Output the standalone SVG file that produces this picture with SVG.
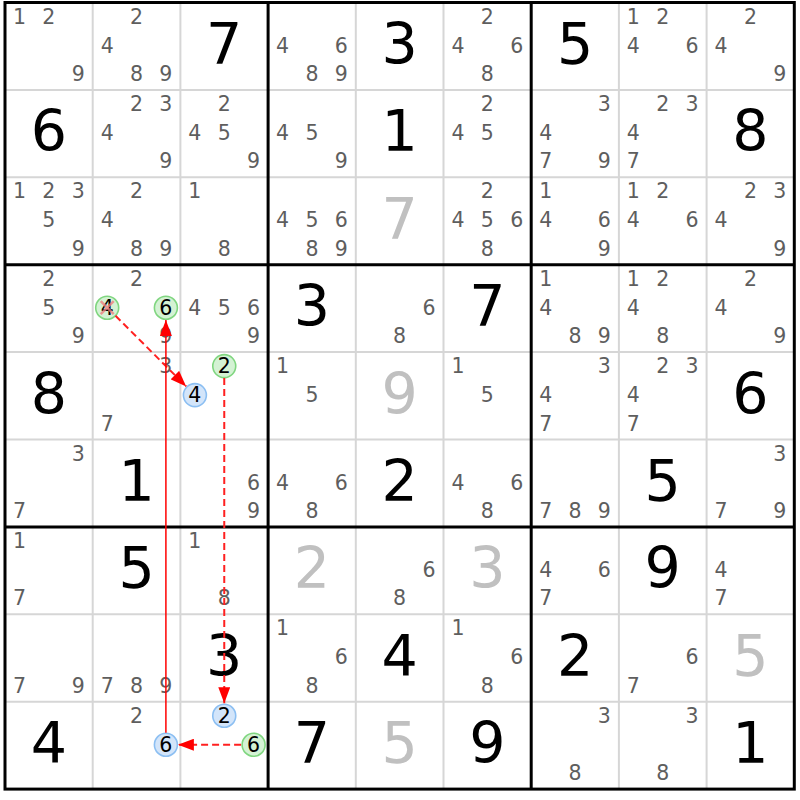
<svg xmlns="http://www.w3.org/2000/svg" width="800" height="800" viewBox="0 0 800 800">
<style>
text{font-family:"DejaVu Sans","Verdana",sans-serif;text-anchor:middle}
.p{font-size:20.5px;fill:#5e5e5e}
.k{fill:#000}
.b{font-size:57px;fill:#000}
.g{font-size:57px;fill:#c0c0c0}
.thin{stroke:#d6d6d6;stroke-width:2}
.thick{stroke:#000;stroke-width:3;fill:none}
.hg{fill:#d4f2d4;stroke:#80d680;stroke-width:1.6}
.hb{fill:#d3e5fa;stroke:#8cbff2;stroke-width:1.6}
.x{stroke:#f08080;stroke-width:2.5;opacity:0.8}
.dl{stroke:#ff2020;stroke-width:2;stroke-dasharray:7,4;fill:none}
.sl{stroke:#ff0000;stroke-width:1.5;fill:none}
</style>
<defs>
<marker id="ah" markerUnits="userSpaceOnUse" markerWidth="16" markerHeight="12" refX="16" refY="6" orient="auto">
<path d="M0,0 L16,6 L0,12 z" fill="#ff0000"/>
</marker>
</defs>
<rect x="0" y="0" width="800" height="800" fill="#fff"/>
<g id="grid">
<path class="thin" d="M92.7,2.5V789.1M180.4,2.5V789.1M355.8,2.5V789.1M443.5,2.5V789.1M618.9,2.5V789.1M706.6,2.5V789.1M5,89.9H794.3M5,177.3H794.3M5,352.1H794.3M5,439.5H794.3M5,614.3H794.3M5,701.7H794.3"/>
<path class="thick" d="M268.1,2.5V789.1M531.2,2.5V789.1M5,264.7H794.3M5,526.9H794.3"/>
<rect class="thick" x="5" y="2.5" width="789.3" height="786.6"/>
</g>
<!-- Row 0 -->
<g id="cell-0-0" transform="translate(5,2.5)"><text class="p" x="14.5" y="21">1</text><text class="p" x="43.85" y="21">2</text><text class="p" x="73.2" y="78.5">9</text></g>
<g id="cell-0-1" transform="translate(92.7,2.5)"><text class="p" x="43.85" y="21">2</text><text class="p" x="14.5" y="50">4</text><text class="p" x="43.85" y="78.5">8</text><text class="p" x="73.2" y="78.5">9</text></g>
<g id="cell-0-2" transform="translate(180.4,2.5)"><text class="b" x="43.85" y="61.5">7</text></g>
<g id="cell-0-3" transform="translate(268.1,2.5)"><text class="p" x="14.5" y="50">4</text><text class="p" x="73.2" y="50">6</text><text class="p" x="43.85" y="78.5">8</text><text class="p" x="73.2" y="78.5">9</text></g>
<g id="cell-0-4" transform="translate(355.8,2.5)"><text class="b" x="43.85" y="61.5">3</text></g>
<g id="cell-0-5" transform="translate(443.5,2.5)"><text class="p" x="43.85" y="21">2</text><text class="p" x="14.5" y="50">4</text><text class="p" x="73.2" y="50">6</text><text class="p" x="43.85" y="78.5">8</text></g>
<g id="cell-0-6" transform="translate(531.2,2.5)"><text class="b" x="43.85" y="61.5">5</text></g>
<g id="cell-0-7" transform="translate(618.9,2.5)"><text class="p" x="14.5" y="21">1</text><text class="p" x="43.85" y="21">2</text><text class="p" x="14.5" y="50">4</text><text class="p" x="73.2" y="50">6</text></g>
<g id="cell-0-8" transform="translate(706.6,2.5)"><text class="p" x="43.85" y="21">2</text><text class="p" x="14.5" y="50">4</text><text class="p" x="73.2" y="78.5">9</text></g>
<!-- Row 1 -->
<g id="cell-1-0" transform="translate(5,89.9)"><text class="b" x="43.85" y="61.5">6</text></g>
<g id="cell-1-1" transform="translate(92.7,89.9)"><text class="p" x="43.85" y="21">2</text><text class="p" x="73.2" y="21">3</text><text class="p" x="14.5" y="50">4</text><text class="p" x="73.2" y="78.5">9</text></g>
<g id="cell-1-2" transform="translate(180.4,89.9)"><text class="p" x="43.85" y="21">2</text><text class="p" x="14.5" y="50">4</text><text class="p" x="43.85" y="50">5</text><text class="p" x="73.2" y="78.5">9</text></g>
<g id="cell-1-3" transform="translate(268.1,89.9)"><text class="p" x="14.5" y="50">4</text><text class="p" x="43.85" y="50">5</text><text class="p" x="73.2" y="78.5">9</text></g>
<g id="cell-1-4" transform="translate(355.8,89.9)"><text class="b" x="43.85" y="61.5">1</text></g>
<g id="cell-1-5" transform="translate(443.5,89.9)"><text class="p" x="43.85" y="21">2</text><text class="p" x="14.5" y="50">4</text><text class="p" x="43.85" y="50">5</text></g>
<g id="cell-1-6" transform="translate(531.2,89.9)"><text class="p" x="73.2" y="21">3</text><text class="p" x="14.5" y="50">4</text><text class="p" x="14.5" y="78.5">7</text><text class="p" x="73.2" y="78.5">9</text></g>
<g id="cell-1-7" transform="translate(618.9,89.9)"><text class="p" x="43.85" y="21">2</text><text class="p" x="73.2" y="21">3</text><text class="p" x="14.5" y="50">4</text><text class="p" x="14.5" y="78.5">7</text></g>
<g id="cell-1-8" transform="translate(706.6,89.9)"><text class="b" x="43.85" y="61.5">8</text></g>
<!-- Row 2 -->
<g id="cell-2-0" transform="translate(5,177.3)"><text class="p" x="14.5" y="21">1</text><text class="p" x="43.85" y="21">2</text><text class="p" x="73.2" y="21">3</text><text class="p" x="43.85" y="50">5</text><text class="p" x="73.2" y="78.5">9</text></g>
<g id="cell-2-1" transform="translate(92.7,177.3)"><text class="p" x="43.85" y="21">2</text><text class="p" x="14.5" y="50">4</text><text class="p" x="43.85" y="78.5">8</text><text class="p" x="73.2" y="78.5">9</text></g>
<g id="cell-2-2" transform="translate(180.4,177.3)"><text class="p" x="14.5" y="21">1</text><text class="p" x="43.85" y="78.5">8</text></g>
<g id="cell-2-3" transform="translate(268.1,177.3)"><text class="p" x="14.5" y="50">4</text><text class="p" x="43.85" y="50">5</text><text class="p" x="73.2" y="50">6</text><text class="p" x="43.85" y="78.5">8</text><text class="p" x="73.2" y="78.5">9</text></g>
<g id="cell-2-4" transform="translate(355.8,177.3)"><text class="g" x="43.85" y="61.5">7</text></g>
<g id="cell-2-5" transform="translate(443.5,177.3)"><text class="p" x="43.85" y="21">2</text><text class="p" x="14.5" y="50">4</text><text class="p" x="43.85" y="50">5</text><text class="p" x="73.2" y="50">6</text><text class="p" x="43.85" y="78.5">8</text></g>
<g id="cell-2-6" transform="translate(531.2,177.3)"><text class="p" x="14.5" y="21">1</text><text class="p" x="14.5" y="50">4</text><text class="p" x="73.2" y="50">6</text><text class="p" x="73.2" y="78.5">9</text></g>
<g id="cell-2-7" transform="translate(618.9,177.3)"><text class="p" x="14.5" y="21">1</text><text class="p" x="43.85" y="21">2</text><text class="p" x="14.5" y="50">4</text><text class="p" x="73.2" y="50">6</text></g>
<g id="cell-2-8" transform="translate(706.6,177.3)"><text class="p" x="43.85" y="21">2</text><text class="p" x="73.2" y="21">3</text><text class="p" x="14.5" y="50">4</text><text class="p" x="73.2" y="78.5">9</text></g>
<!-- Row 3 -->
<g id="cell-3-0" transform="translate(5,264.7)"><text class="p" x="43.85" y="21">2</text><text class="p" x="43.85" y="50">5</text><text class="p" x="73.2" y="78.5">9</text></g>
<g id="cell-3-1" transform="translate(92.7,264.7)"><text class="p" x="43.85" y="21">2</text><circle class="hg" cx="14.5" cy="43" r="11.5"/><text class="p k" x="14.5" y="50">4</text><path class="x" d="M8,36.5L21,49.5M21,36.5L8,49.5"/><circle class="hg" cx="73.2" cy="43" r="11.5"/><text class="p k" x="73.2" y="50">6</text><text class="p" x="73.2" y="78.5">9</text></g>
<g id="cell-3-2" transform="translate(180.4,264.7)"><text class="p" x="14.5" y="50">4</text><text class="p" x="43.85" y="50">5</text><text class="p" x="73.2" y="50">6</text><text class="p" x="73.2" y="78.5">9</text></g>
<g id="cell-3-3" transform="translate(268.1,264.7)"><text class="b" x="43.85" y="61.5">3</text></g>
<g id="cell-3-4" transform="translate(355.8,264.7)"><text class="p" x="73.2" y="50">6</text><text class="p" x="43.85" y="78.5">8</text></g>
<g id="cell-3-5" transform="translate(443.5,264.7)"><text class="b" x="43.85" y="61.5">7</text></g>
<g id="cell-3-6" transform="translate(531.2,264.7)"><text class="p" x="14.5" y="21">1</text><text class="p" x="14.5" y="50">4</text><text class="p" x="43.85" y="78.5">8</text><text class="p" x="73.2" y="78.5">9</text></g>
<g id="cell-3-7" transform="translate(618.9,264.7)"><text class="p" x="14.5" y="21">1</text><text class="p" x="43.85" y="21">2</text><text class="p" x="14.5" y="50">4</text><text class="p" x="43.85" y="78.5">8</text></g>
<g id="cell-3-8" transform="translate(706.6,264.7)"><text class="p" x="43.85" y="21">2</text><text class="p" x="14.5" y="50">4</text><text class="p" x="73.2" y="78.5">9</text></g>
<!-- Row 4 -->
<g id="cell-4-0" transform="translate(5,352.1)"><text class="b" x="43.85" y="61.5">8</text></g>
<g id="cell-4-1" transform="translate(92.7,352.1)"><text class="p" x="73.2" y="21">3</text><text class="p" x="14.5" y="78.5">7</text></g>
<g id="cell-4-2" transform="translate(180.4,352.1)"><circle class="hg" cx="43.85" cy="14" r="11.5"/><text class="p k" x="43.85" y="21">2</text><circle class="hb" cx="14.5" cy="43" r="11.5"/><text class="p k" x="14.5" y="50">4</text></g>
<g id="cell-4-3" transform="translate(268.1,352.1)"><text class="p" x="14.5" y="21">1</text><text class="p" x="43.85" y="50">5</text></g>
<g id="cell-4-4" transform="translate(355.8,352.1)"><text class="g" x="43.85" y="61.5">9</text></g>
<g id="cell-4-5" transform="translate(443.5,352.1)"><text class="p" x="14.5" y="21">1</text><text class="p" x="43.85" y="50">5</text></g>
<g id="cell-4-6" transform="translate(531.2,352.1)"><text class="p" x="73.2" y="21">3</text><text class="p" x="14.5" y="50">4</text><text class="p" x="14.5" y="78.5">7</text></g>
<g id="cell-4-7" transform="translate(618.9,352.1)"><text class="p" x="43.85" y="21">2</text><text class="p" x="73.2" y="21">3</text><text class="p" x="14.5" y="50">4</text><text class="p" x="14.5" y="78.5">7</text></g>
<g id="cell-4-8" transform="translate(706.6,352.1)"><text class="b" x="43.85" y="61.5">6</text></g>
<!-- Row 5 -->
<g id="cell-5-0" transform="translate(5,439.5)"><text class="p" x="73.2" y="21">3</text><text class="p" x="14.5" y="78.5">7</text></g>
<g id="cell-5-1" transform="translate(92.7,439.5)"><text class="b" x="43.85" y="61.5">1</text></g>
<g id="cell-5-2" transform="translate(180.4,439.5)"><text class="p" x="73.2" y="50">6</text><text class="p" x="73.2" y="78.5">9</text></g>
<g id="cell-5-3" transform="translate(268.1,439.5)"><text class="p" x="14.5" y="50">4</text><text class="p" x="73.2" y="50">6</text><text class="p" x="43.85" y="78.5">8</text></g>
<g id="cell-5-4" transform="translate(355.8,439.5)"><text class="b" x="43.85" y="61.5">2</text></g>
<g id="cell-5-5" transform="translate(443.5,439.5)"><text class="p" x="14.5" y="50">4</text><text class="p" x="73.2" y="50">6</text><text class="p" x="43.85" y="78.5">8</text></g>
<g id="cell-5-6" transform="translate(531.2,439.5)"><text class="p" x="14.5" y="78.5">7</text><text class="p" x="43.85" y="78.5">8</text><text class="p" x="73.2" y="78.5">9</text></g>
<g id="cell-5-7" transform="translate(618.9,439.5)"><text class="b" x="43.85" y="61.5">5</text></g>
<g id="cell-5-8" transform="translate(706.6,439.5)"><text class="p" x="73.2" y="21">3</text><text class="p" x="14.5" y="78.5">7</text><text class="p" x="73.2" y="78.5">9</text></g>
<!-- Row 6 -->
<g id="cell-6-0" transform="translate(5,526.9)"><text class="p" x="14.5" y="21">1</text><text class="p" x="14.5" y="78.5">7</text></g>
<g id="cell-6-1" transform="translate(92.7,526.9)"><text class="b" x="43.85" y="61.5">5</text></g>
<g id="cell-6-2" transform="translate(180.4,526.9)"><text class="p" x="14.5" y="21">1</text><text class="p" x="43.85" y="78.5">8</text></g>
<g id="cell-6-3" transform="translate(268.1,526.9)"><text class="g" x="43.85" y="61.5">2</text></g>
<g id="cell-6-4" transform="translate(355.8,526.9)"><text class="p" x="73.2" y="50">6</text><text class="p" x="43.85" y="78.5">8</text></g>
<g id="cell-6-5" transform="translate(443.5,526.9)"><text class="g" x="43.85" y="61.5">3</text></g>
<g id="cell-6-6" transform="translate(531.2,526.9)"><text class="p" x="14.5" y="50">4</text><text class="p" x="73.2" y="50">6</text><text class="p" x="14.5" y="78.5">7</text></g>
<g id="cell-6-7" transform="translate(618.9,526.9)"><text class="b" x="43.85" y="61.5">9</text></g>
<g id="cell-6-8" transform="translate(706.6,526.9)"><text class="p" x="14.5" y="50">4</text><text class="p" x="14.5" y="78.5">7</text></g>
<!-- Row 7 -->
<g id="cell-7-0" transform="translate(5,614.3)"><text class="p" x="14.5" y="78.5">7</text><text class="p" x="73.2" y="78.5">9</text></g>
<g id="cell-7-1" transform="translate(92.7,614.3)"><text class="p" x="14.5" y="78.5">7</text><text class="p" x="43.85" y="78.5">8</text><text class="p" x="73.2" y="78.5">9</text></g>
<g id="cell-7-2" transform="translate(180.4,614.3)"><text class="b" x="43.85" y="61.5">3</text></g>
<g id="cell-7-3" transform="translate(268.1,614.3)"><text class="p" x="14.5" y="21">1</text><text class="p" x="73.2" y="50">6</text><text class="p" x="43.85" y="78.5">8</text></g>
<g id="cell-7-4" transform="translate(355.8,614.3)"><text class="b" x="43.85" y="61.5">4</text></g>
<g id="cell-7-5" transform="translate(443.5,614.3)"><text class="p" x="14.5" y="21">1</text><text class="p" x="73.2" y="50">6</text><text class="p" x="43.85" y="78.5">8</text></g>
<g id="cell-7-6" transform="translate(531.2,614.3)"><text class="b" x="43.85" y="61.5">2</text></g>
<g id="cell-7-7" transform="translate(618.9,614.3)"><text class="p" x="73.2" y="50">6</text><text class="p" x="14.5" y="78.5">7</text></g>
<g id="cell-7-8" transform="translate(706.6,614.3)"><text class="g" x="43.85" y="61.5">5</text></g>
<!-- Row 8 -->
<g id="cell-8-0" transform="translate(5,701.7)"><text class="b" x="43.85" y="61.5">4</text></g>
<g id="cell-8-1" transform="translate(92.7,701.7)"><text class="p" x="43.85" y="21">2</text><circle class="hb" cx="73.2" cy="43" r="11.5"/><text class="p k" x="73.2" y="50">6</text></g>
<g id="cell-8-2" transform="translate(180.4,701.7)"><circle class="hb" cx="43.85" cy="14" r="11.5"/><text class="p k" x="43.85" y="21">2</text><circle class="hg" cx="73.2" cy="43" r="11.5"/><text class="p k" x="73.2" y="50">6</text></g>
<g id="cell-8-3" transform="translate(268.1,701.7)"><text class="b" x="43.85" y="61.5">7</text></g>
<g id="cell-8-4" transform="translate(355.8,701.7)"><text class="g" x="43.85" y="61.5">5</text></g>
<g id="cell-8-5" transform="translate(443.5,701.7)"><text class="b" x="43.85" y="61.5">9</text></g>
<g id="cell-8-6" transform="translate(531.2,701.7)"><text class="p" x="73.2" y="21">3</text><text class="p" x="43.85" y="78.5">8</text></g>
<g id="cell-8-7" transform="translate(618.9,701.7)"><text class="p" x="73.2" y="21">3</text><text class="p" x="43.85" y="78.5">8</text></g>
<g id="cell-8-8" transform="translate(706.6,701.7)"><text class="b" x="43.85" y="61.5">1</text></g>
<g id="connectors">
<line class="dl" x1="115.5" y1="315.8" x2="186.2" y2="386.4" marker-end="url(#ah)"/>
<line class="dl" x1="224.25" y1="378.1" x2="224.25" y2="703.2" marker-end="url(#ah)"/>
<line class="dl" x1="241.1" y1="744.7" x2="177.9" y2="744.7" marker-end="url(#ah)"/>
<line class="sl" x1="165.9" y1="732.7" x2="165.9" y2="320" marker-end="url(#ah)"/>
</g>
</svg>
